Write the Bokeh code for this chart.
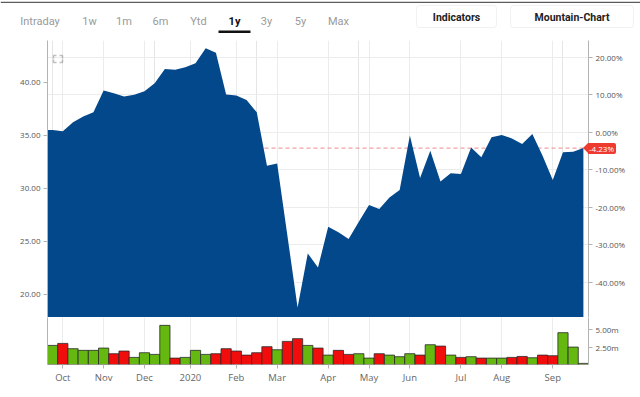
from bokeh.plotting import figure
from bokeh.models import (Range1d, LinearAxis, FixedTicker, PrintfTickFormatter,
                          NumeralTickFormatter, Grid, Span, PolyAnnotation, Div,
                          BoxAnnotation)
from bokeh.core.properties import value
from bokeh.layouts import column
from bokeh.embed import file_html
from bokeh.resources import INLINE

# ---------------- data ----------------
weeks = list(range(53))
close = [35.56, 35.43, 36.28, 36.82, 37.22, 39.27, 39.02, 38.71, 38.87, 39.21,
         39.96, 41.32, 41.23, 41.47, 41.85, 43.27, 42.84, 38.90, 38.80, 38.39,
         37.22, 32.18, 32.40, 25.60, 18.79, 23.90, 22.57, 26.42, 25.90, 25.25,
         26.90, 28.47, 28.09, 29.19, 29.89, 35.02, 31.02, 33.60, 30.70, 31.46,
         31.40, 33.91, 32.97, 34.86, 35.09, 34.76, 34.23, 35.18, 33.13, 30.83,
         33.44, 33.50, 33.84]
volume_m = [2.74, 3.03, 2.27, 2.03, 2.03, 2.36, 1.55, 1.93, 1.02, 1.69,
            1.45, 5.62, 0.92, 1.02, 2.03, 1.45, 1.55, 2.27, 1.93, 1.35,
            1.69, 2.56, 2.12, 3.32, 3.71, 2.74, 2.36, 1.35, 2.03, 1.45,
            1.55, 0.92, 1.55, 1.35, 1.12, 1.55, 1.35, 2.84, 2.64, 1.35,
            1.02, 1.12, 0.92, 0.92, 0.92, 1.02, 1.16, 0.97, 1.35, 1.26,
            4.57, 2.50, 0.16]
base_close = 35.33
change_pct = -4.23
month_pos = [1, 5, 9, 13.5, 18, 22, 27, 31, 35, 40, 44, 49]
month_labels = ["Oct", "Nov", "Dec", "2020", "Feb", "Mar", "Apr", "May", "Jun",
                "Jul", "Aug", "Sep"]
price_ticks = [20, 25, 30, 35, 40]
pct_ticks = [-40, -30, -20, -10, 0, 10, 20]
vol_ticks = [2.5, 5.0]
price_lo, price_hi = 17.85, 44.0
vol_hi = 6.75
tabs = ["Intraday", "1w", "1m", "6m", "Ytd", "1y", "3y", "5y", "Max"]
active_tab = "1y"
buttons = ["Indicators", "Mountain-Chart"]

# ---------------- style / layout ----------------
BLUE = "#04488c"
GREEN = "#64b80f"
RED = "#f20d0d"
TAG = "#ee3b30"
AX = "#b4b4b4"
GRID = "#ececec"
LBL = "#555555"
FONT = "Open Sans"
UI_FONT = "Roboto"
PAGE_W = 640
HEAD_H = 40
PRICE_H = 277
VOL_FRAME_H = 47
BORDER_L, BORDER_R = 47, 44
FIG_W = BORDER_L + 541 + BORDER_R
TAG_DY = -10  # html overlay offset inside the Div

# ---------------- header (svg) ----------------
h = figure(width=PAGE_W, height=HEAD_H - 1, x_range=Range1d(0, PAGE_W),
           y_range=Range1d(HEAD_H, 1), output_backend="svg", toolbar_location=None,
           min_border=0, outline_line_color=None, x_axis_location=None,
           y_axis_location=None)
if "frame_align" in h.properties():
    h.frame_align = False
h.grid.visible = False
h.quad(left=[0], right=[PAGE_W], top=[1], bottom=[2.6], fill_color="#5c5c5c",
       line_color=None)
tab_centers = [39.5, 89, 123.5, 160, 198, 234, 266, 300, 338]
act_i = tabs.index(active_tab)
other_x = [c for i, c in enumerate(tab_centers) if i != act_i]
other_t = [t for i, t in enumerate(tabs) if i != act_i]
h.text(x=other_x, y=[20.5] * len(other_x), text=other_t, text_align="center",
       text_baseline="middle", text_font=value(UI_FONT), text_font_size="11px",
       text_color="#9a9a9a")
h.text(x=[tab_centers[act_i]], y=[20.5], text=[active_tab], text_align="center",
       text_baseline="middle", text_font=value(UI_FONT), text_font_size="11px",
       text_font_style="bold", text_color="#111111")
h.quad(left=[tab_centers[act_i] - 16], right=[tab_centers[act_i] + 16], top=[30],
       bottom=[32.5], fill_color="#111111", line_color=None)
btn_box = [(416, 496), (510, 633)]
for (l, r) in btn_box:
    h.add_layout(BoxAnnotation(left=l, right=r, top=5, bottom=27, fill_color="white",
                               fill_alpha=1, line_color="#cfcfcf", line_width=1,
                               border_radius=3, level="underlay"))
h.text(x=[(l + r) / 2 for l, r in btn_box], y=[16.5] * len(buttons), text=buttons,
       text_align="center", text_baseline="middle", text_font=value(UI_FONT),
       text_font_size="10.5px", text_font_style="bold", text_color="#222222")

# ---------------- price tag (html overlay, positioned from the plot's price range) ----
last = close[-1]
tag_cy = HEAD_H + PRICE_H * (price_hi - last) / (price_hi - price_lo) + TAG_DY
tag_left = BORDER_L + 536
tag_html = (
    f'<div style="position:relative;width:{PAGE_W}px;height:1px;overflow:visible;">'
    f'<div style="position:absolute;z-index:50;left:{tag_left}px;top:{tag_cy - 5.5:.1f}px;'
    f'width:0;height:0;border-top:5.5px solid transparent;border-bottom:5.5px solid transparent;'
    f'border-right:5px solid {TAG};"></div>'
    f'<div style="position:absolute;z-index:50;left:{tag_left + 5}px;top:{tag_cy - 5.5:.1f}px;'
    f'height:11px;padding:0 2px 0 1px;background:{TAG};border-radius:0 2px 2px 0;'
    f'color:#fff;font-family:\'Open Sans\',sans-serif;font-size:8px;line-height:11px;'
    f'white-space:nowrap;">{change_pct:.2f}%</div></div>')
tagdiv = Div(text=tag_html, width=PAGE_W, height=1, margin=0,
             styles={"overflow": "visible", "z-index": "10"})

# ---------------- price panel ----------------
p = figure(width=FIG_W, height=PRICE_H, x_range=Range1d(-0.5, 52.5),
           y_range=Range1d(price_lo, price_hi), output_backend="svg",
           toolbar_location=None, x_axis_location=None,
           min_border_left=BORDER_L, min_border_right=BORDER_R, min_border_top=0,
           min_border_bottom=0, outline_line_color=None)
p.ygrid.visible = False
p.extra_y_ranges = {"pct": Range1d((price_lo / base_close - 1) * 100,
                                   (price_hi / base_close - 1) * 100)}

p.add_layout(Grid(dimension=0, ticker=FixedTicker(ticks=month_pos),
                  grid_line_color=GRID))
p.add_layout(Grid(dimension=1, y_range_name="pct", ticker=FixedTicker(ticks=pct_ticks),
                  grid_line_color=GRID))

p.add_layout(Span(location=last, dimension="width", line_color="#ef8a8a",
                  line_dash="4 3", line_width=1, level="underlay"))

ax = [weeks[0] - 0.5] + weeks
ay = [close[0]] + close
p.varea(x=ax, y1=price_lo, y2=ay, fill_color=BLUE)


def style_axis(a, size="8px"):
    a.axis_line_color = AX
    a.major_tick_line_color = AX
    a.minor_tick_line_color = None
    a.major_tick_out = 4
    a.major_tick_in = 0
    a.major_label_text_color = LBL
    a.major_label_text_font = FONT
    a.major_label_text_font_size = size
    a.major_label_standoff = 3


ya = p.yaxis[0]
ya.ticker = FixedTicker(ticks=price_ticks)
ya.formatter = NumeralTickFormatter(format="0.00")
style_axis(ya)

ra = LinearAxis(y_range_name="pct", ticker=FixedTicker(ticks=pct_ticks),
                formatter=PrintfTickFormatter(format="%.2f%%"))
style_axis(ra)
p.add_layout(ra, "right")

# expand icon
ix, iy = 53, 15
for xs, ys in [([0, 0, 3, 0], [3, 0, 0, 0]),
               ([6, 9, 9, 9], [0, 0, 3, 0]),
               ([0, 0, 3, 0], [4, 7, 7, 7]),
               ([6, 9, 9, 9], [7, 7, 4, 7])]:
    p.add_layout(PolyAnnotation(xs=[ix + a for a in xs], ys=[iy + b for b in ys],
                                xs_units="canvas", ys_units="canvas",
                                fill_alpha=0, line_color="#333333", line_width=1.5))

# ---------------- volume panel ----------------
v = figure(width=FIG_W, height=VOL_FRAME_H + 24, x_range=p.x_range,
           y_range=Range1d(0, vol_hi), output_backend="svg",
           toolbar_location=None, y_axis_location="right",
           min_border_left=BORDER_L, min_border_right=BORDER_R, min_border_top=0,
           min_border_bottom=24, outline_line_color=None)
v.ygrid.visible = False
v.xgrid.ticker = FixedTicker(ticks=month_pos)
v.xgrid.grid_line_color = GRID

prev = [base_close] + close[:-1]
colors = [GREEN if c >= pc else RED for c, pc in zip(close, prev)]
v.vbar(x=weeks, top=volume_m, width=1.0, fill_color=colors,
       line_color="#2a2a2a", line_width=0.8)

vr = v.yaxis[0]
vr.ticker = FixedTicker(ticks=vol_ticks)
vr.formatter = PrintfTickFormatter(format="%.2fm")
style_axis(vr)

vl = LinearAxis(ticker=FixedTicker(ticks=[]), axis_line_color=AX,
                major_tick_line_color=None, minor_tick_line_color=None,
                major_label_text_font_size="0px")
v.add_layout(vl, "left")

xa = v.xaxis[0]
xa.ticker = FixedTicker(ticks=month_pos)
xa.major_label_overrides = {pos: lab for pos, lab in zip(month_pos, month_labels)}
style_axis(xa, "9.5px")
xa.axis_line_color = None
xa.major_label_text_color = "#666666"
xa.major_label_standoff = 2

layout = column(tagdiv, h, p, v, spacing=0)
open("out.html", "w").write(file_html(layout, INLINE))
